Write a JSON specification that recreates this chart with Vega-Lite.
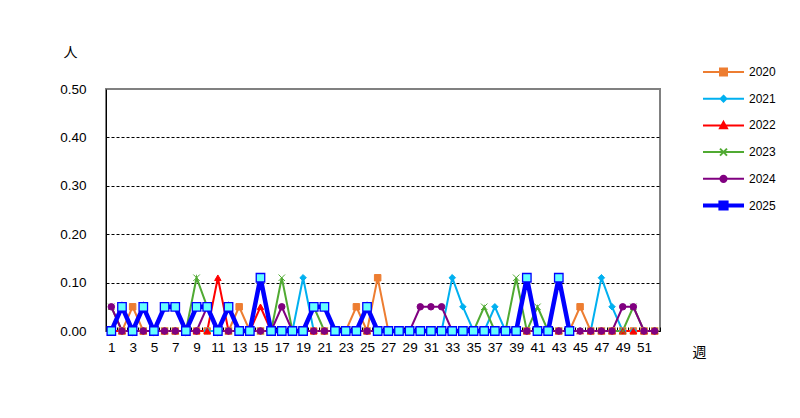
{
  "$schema": "https://vega.github.io/schema/vega-lite/v6.json",
  "width": 554,
  "height": 242,
  "autosize": {"type": "none"},
  "padding": {"left": 106, "top": 89, "right": 140, "bottom": 87},
  "background": "white",
  "config": {
    "view": {"stroke": "#808080", "strokeWidth": 2},
    "font": "Liberation Sans",
    "axis": {"labelFont": "Liberation Sans", "labelFontSize": 13.5, "labelColor": "black", "domainColor": "black", "domainWidth": 1}
  },
  "data": {"values": [
    {"y":"2020","w":1,"v":0},{"y":"2020","w":2,"v":0},{"y":"2020","w":3,"v":0.05},{"y":"2020","w":4,"v":0},{"y":"2020","w":5,"v":0},{"y":"2020","w":6,"v":0},{"y":"2020","w":7,"v":0},{"y":"2020","w":8,"v":0},{"y":"2020","w":9,"v":0},{"y":"2020","w":10,"v":0},{"y":"2020","w":11,"v":0},{"y":"2020","w":12,"v":0},{"y":"2020","w":13,"v":0.05},{"y":"2020","w":14,"v":0},{"y":"2020","w":15,"v":0},{"y":"2020","w":16,"v":0},{"y":"2020","w":17,"v":0},{"y":"2020","w":18,"v":0},{"y":"2020","w":19,"v":0},{"y":"2020","w":20,"v":0},{"y":"2020","w":21,"v":0},{"y":"2020","w":22,"v":0},{"y":"2020","w":23,"v":0},{"y":"2020","w":24,"v":0.05},{"y":"2020","w":25,"v":0},{"y":"2020","w":26,"v":0.11},{"y":"2020","w":27,"v":0},{"y":"2020","w":28,"v":0},{"y":"2020","w":29,"v":0},{"y":"2020","w":30,"v":0},{"y":"2020","w":31,"v":0},{"y":"2020","w":32,"v":0},{"y":"2020","w":33,"v":0},{"y":"2020","w":34,"v":0},{"y":"2020","w":35,"v":0},{"y":"2020","w":36,"v":0},{"y":"2020","w":37,"v":0},{"y":"2020","w":38,"v":0},{"y":"2020","w":39,"v":0},{"y":"2020","w":40,"v":0},{"y":"2020","w":41,"v":0},{"y":"2020","w":42,"v":0},{"y":"2020","w":43,"v":0},{"y":"2020","w":44,"v":0},{"y":"2020","w":45,"v":0.05},{"y":"2020","w":46,"v":0},{"y":"2020","w":47,"v":0},{"y":"2020","w":48,"v":0},{"y":"2020","w":49,"v":0},{"y":"2020","w":50,"v":0},{"y":"2020","w":51,"v":0},{"y":"2020","w":52,"v":0},
    {"y":"2021","w":1,"v":0},{"y":"2021","w":2,"v":0},{"y":"2021","w":3,"v":0},{"y":"2021","w":4,"v":0},{"y":"2021","w":5,"v":0},{"y":"2021","w":6,"v":0},{"y":"2021","w":7,"v":0},{"y":"2021","w":8,"v":0},{"y":"2021","w":9,"v":0},{"y":"2021","w":10,"v":0},{"y":"2021","w":11,"v":0},{"y":"2021","w":12,"v":0},{"y":"2021","w":13,"v":0},{"y":"2021","w":14,"v":0},{"y":"2021","w":15,"v":0},{"y":"2021","w":16,"v":0},{"y":"2021","w":17,"v":0},{"y":"2021","w":18,"v":0},{"y":"2021","w":19,"v":0.11},{"y":"2021","w":20,"v":0},{"y":"2021","w":21,"v":0},{"y":"2021","w":22,"v":0},{"y":"2021","w":23,"v":0},{"y":"2021","w":24,"v":0},{"y":"2021","w":25,"v":0},{"y":"2021","w":26,"v":0},{"y":"2021","w":27,"v":0},{"y":"2021","w":28,"v":0},{"y":"2021","w":29,"v":0},{"y":"2021","w":30,"v":0},{"y":"2021","w":31,"v":0},{"y":"2021","w":32,"v":0},{"y":"2021","w":33,"v":0.11},{"y":"2021","w":34,"v":0.05},{"y":"2021","w":35,"v":0},{"y":"2021","w":36,"v":0},{"y":"2021","w":37,"v":0.05},{"y":"2021","w":38,"v":0},{"y":"2021","w":39,"v":0},{"y":"2021","w":40,"v":0},{"y":"2021","w":41,"v":0},{"y":"2021","w":42,"v":0},{"y":"2021","w":43,"v":0},{"y":"2021","w":44,"v":0},{"y":"2021","w":45,"v":0},{"y":"2021","w":46,"v":0},{"y":"2021","w":47,"v":0.11},{"y":"2021","w":48,"v":0.05},{"y":"2021","w":49,"v":0},{"y":"2021","w":50,"v":0},{"y":"2021","w":51,"v":0},{"y":"2021","w":52,"v":0},
    {"y":"2022","w":1,"v":0},{"y":"2022","w":2,"v":0},{"y":"2022","w":3,"v":0},{"y":"2022","w":4,"v":0},{"y":"2022","w":5,"v":0},{"y":"2022","w":6,"v":0},{"y":"2022","w":7,"v":0},{"y":"2022","w":8,"v":0},{"y":"2022","w":9,"v":0},{"y":"2022","w":10,"v":0},{"y":"2022","w":11,"v":0.11},{"y":"2022","w":12,"v":0},{"y":"2022","w":13,"v":0},{"y":"2022","w":14,"v":0},{"y":"2022","w":15,"v":0.05},{"y":"2022","w":16,"v":0},{"y":"2022","w":17,"v":0},{"y":"2022","w":18,"v":0},{"y":"2022","w":19,"v":0},{"y":"2022","w":20,"v":0},{"y":"2022","w":21,"v":0},{"y":"2022","w":22,"v":0},{"y":"2022","w":23,"v":0},{"y":"2022","w":24,"v":0},{"y":"2022","w":25,"v":0},{"y":"2022","w":26,"v":0},{"y":"2022","w":27,"v":0},{"y":"2022","w":28,"v":0},{"y":"2022","w":29,"v":0},{"y":"2022","w":30,"v":0},{"y":"2022","w":31,"v":0},{"y":"2022","w":32,"v":0},{"y":"2022","w":33,"v":0},{"y":"2022","w":34,"v":0},{"y":"2022","w":35,"v":0},{"y":"2022","w":36,"v":0},{"y":"2022","w":37,"v":0},{"y":"2022","w":38,"v":0},{"y":"2022","w":39,"v":0},{"y":"2022","w":40,"v":0},{"y":"2022","w":41,"v":0},{"y":"2022","w":42,"v":0},{"y":"2022","w":43,"v":0},{"y":"2022","w":44,"v":0},{"y":"2022","w":45,"v":0},{"y":"2022","w":46,"v":0},{"y":"2022","w":47,"v":0},{"y":"2022","w":48,"v":0},{"y":"2022","w":49,"v":0},{"y":"2022","w":50,"v":0},{"y":"2022","w":51,"v":0},{"y":"2022","w":52,"v":0},
    {"y":"2023","w":1,"v":0.05},{"y":"2023","w":2,"v":0},{"y":"2023","w":3,"v":0},{"y":"2023","w":4,"v":0},{"y":"2023","w":5,"v":0},{"y":"2023","w":6,"v":0},{"y":"2023","w":7,"v":0},{"y":"2023","w":8,"v":0},{"y":"2023","w":9,"v":0.11},{"y":"2023","w":10,"v":0.05},{"y":"2023","w":11,"v":0},{"y":"2023","w":12,"v":0},{"y":"2023","w":13,"v":0},{"y":"2023","w":14,"v":0},{"y":"2023","w":15,"v":0},{"y":"2023","w":16,"v":0},{"y":"2023","w":17,"v":0.11},{"y":"2023","w":18,"v":0},{"y":"2023","w":19,"v":0},{"y":"2023","w":20,"v":0.05},{"y":"2023","w":21,"v":0},{"y":"2023","w":22,"v":0},{"y":"2023","w":23,"v":0},{"y":"2023","w":24,"v":0},{"y":"2023","w":25,"v":0},{"y":"2023","w":26,"v":0},{"y":"2023","w":27,"v":0},{"y":"2023","w":28,"v":0},{"y":"2023","w":29,"v":0},{"y":"2023","w":30,"v":0},{"y":"2023","w":31,"v":0},{"y":"2023","w":32,"v":0},{"y":"2023","w":33,"v":0},{"y":"2023","w":34,"v":0},{"y":"2023","w":35,"v":0},{"y":"2023","w":36,"v":0.05},{"y":"2023","w":37,"v":0},{"y":"2023","w":38,"v":0},{"y":"2023","w":39,"v":0.11},{"y":"2023","w":40,"v":0},{"y":"2023","w":41,"v":0.05},{"y":"2023","w":42,"v":0},{"y":"2023","w":43,"v":0},{"y":"2023","w":44,"v":0},{"y":"2023","w":45,"v":0},{"y":"2023","w":46,"v":0},{"y":"2023","w":47,"v":0},{"y":"2023","w":48,"v":0},{"y":"2023","w":49,"v":0},{"y":"2023","w":50,"v":0.05},{"y":"2023","w":51,"v":0},{"y":"2023","w":52,"v":0},
    {"y":"2024","w":1,"v":0.05},{"y":"2024","w":2,"v":0},{"y":"2024","w":3,"v":0},{"y":"2024","w":4,"v":0},{"y":"2024","w":5,"v":0},{"y":"2024","w":6,"v":0},{"y":"2024","w":7,"v":0},{"y":"2024","w":8,"v":0},{"y":"2024","w":9,"v":0},{"y":"2024","w":10,"v":0.05},{"y":"2024","w":11,"v":0},{"y":"2024","w":12,"v":0},{"y":"2024","w":13,"v":0},{"y":"2024","w":14,"v":0},{"y":"2024","w":15,"v":0},{"y":"2024","w":16,"v":0},{"y":"2024","w":17,"v":0.05},{"y":"2024","w":18,"v":0},{"y":"2024","w":19,"v":0},{"y":"2024","w":20,"v":0},{"y":"2024","w":21,"v":0},{"y":"2024","w":22,"v":0},{"y":"2024","w":23,"v":0},{"y":"2024","w":24,"v":0},{"y":"2024","w":25,"v":0},{"y":"2024","w":26,"v":0},{"y":"2024","w":27,"v":0},{"y":"2024","w":28,"v":0},{"y":"2024","w":29,"v":0},{"y":"2024","w":30,"v":0.05},{"y":"2024","w":31,"v":0.05},{"y":"2024","w":32,"v":0.05},{"y":"2024","w":33,"v":0},{"y":"2024","w":34,"v":0},{"y":"2024","w":35,"v":0},{"y":"2024","w":36,"v":0},{"y":"2024","w":37,"v":0},{"y":"2024","w":38,"v":0},{"y":"2024","w":39,"v":0},{"y":"2024","w":40,"v":0},{"y":"2024","w":41,"v":0},{"y":"2024","w":42,"v":0},{"y":"2024","w":43,"v":0},{"y":"2024","w":44,"v":0},{"y":"2024","w":45,"v":0},{"y":"2024","w":46,"v":0},{"y":"2024","w":47,"v":0},{"y":"2024","w":48,"v":0},{"y":"2024","w":49,"v":0.05},{"y":"2024","w":50,"v":0.05},{"y":"2024","w":51,"v":0},{"y":"2024","w":52,"v":0},
    {"y":"2025","w":1,"v":0},{"y":"2025","w":2,"v":0.05},{"y":"2025","w":3,"v":0},{"y":"2025","w":4,"v":0.05},{"y":"2025","w":5,"v":0},{"y":"2025","w":6,"v":0.05},{"y":"2025","w":7,"v":0.05},{"y":"2025","w":8,"v":0},{"y":"2025","w":9,"v":0.05},{"y":"2025","w":10,"v":0.05},{"y":"2025","w":11,"v":0},{"y":"2025","w":12,"v":0.05},{"y":"2025","w":13,"v":0},{"y":"2025","w":14,"v":0},{"y":"2025","w":15,"v":0.11},{"y":"2025","w":16,"v":0},{"y":"2025","w":17,"v":0},{"y":"2025","w":18,"v":0},{"y":"2025","w":19,"v":0},{"y":"2025","w":20,"v":0.05},{"y":"2025","w":21,"v":0.05},{"y":"2025","w":22,"v":0},{"y":"2025","w":23,"v":0},{"y":"2025","w":24,"v":0},{"y":"2025","w":25,"v":0.05},{"y":"2025","w":26,"v":0},{"y":"2025","w":27,"v":0},{"y":"2025","w":28,"v":0},{"y":"2025","w":29,"v":0},{"y":"2025","w":30,"v":0},{"y":"2025","w":31,"v":0},{"y":"2025","w":32,"v":0},{"y":"2025","w":33,"v":0},{"y":"2025","w":34,"v":0},{"y":"2025","w":35,"v":0},{"y":"2025","w":36,"v":0},{"y":"2025","w":37,"v":0},{"y":"2025","w":38,"v":0},{"y":"2025","w":39,"v":0},{"y":"2025","w":40,"v":0.11},{"y":"2025","w":41,"v":0},{"y":"2025","w":42,"v":0},{"y":"2025","w":43,"v":0.11},{"y":"2025","w":44,"v":0}
  ]},
  "encoding": {
    "x": {
      "field": "w", "type": "ordinal",
      "scale": {"type": "point", "padding": 0.5, "domain": [1,2,3,4,5,6,7,8,9,10,11,12,13,14,15,16,17,18,19,20,21,22,23,24,25,26,27,28,29,30,31,32,33,34,35,36,37,38,39,40,41,42,43,44,45,46,47,48,49,50,51,52]},
      "axis": {
        "title": "週", "titleFont": "Noto Sans CJK JP", "titleFontSize": 14, "titleFontWeight": "normal", "titleColor": "black",
        "titleAngle": 0, "titleX": 593, "titleY": 21, "titleAlign": "center", "titleBaseline": "middle",
        "labelExpr": "datum.value % 2 == 1 ? datum.label : ''", "labelAngle": 0, "labelBaseline": "top",
        "ticks": true, "tickSize": -4, "tickColor": "black", "tickWidth": 1, "tickOffset": 5.33, "labelOffset": -5.33,
        "labelPadding": 13, "grid": false, "domain": true
      }
    },
    "y": {
      "field": "v", "type": "quantitative",
      "scale": {"domain": [0, 0.5], "nice": false},
      "axis": {
        "title": "人", "titleFont": "Noto Sans CJK JP", "titleFontSize": 14, "titleFontWeight": "normal", "titleColor": "black",
        "titleAngle": 0, "titleX": -36, "titleY": -37, "titleAlign": "center", "titleBaseline": "middle",
        "values": [0, 0.1, 0.2, 0.3, 0.4, 0.5], "format": ".2f",
        "ticks": false, "tickSize": 0, "labelPadding": 20,
        "grid": true, "gridColor": "black", "gridDash": [3, 2], "gridWidth": 1,
        "gridOpacity": {"condition": {"test": "datum.value < 0.01 || datum.value > 0.49", "value": 0}, "value": 1},
        "domain": true
      }
    }
  },
  "layer": [
    {
      "transform": [{"filter": "datum.y != '2025'"}],
      "mark": {"type": "line", "strokeWidth": 2},
      "encoding": {
        "color": {
          "field": "y", "type": "nominal",
          "scale": {"domain": ["2020","2021","2022","2023","2024","2025"], "range": ["#ED7D31","#00B0F0","#FF0000","#50AA32","#800080","#0000FF"]},
          "legend": {
            "title": null, "orient": "none", "legendX": 596, "legendY": -24, "padding": 0,
            "symbolSize": 1681, "symbolStrokeWidth": 2, "clipHeight": 14, "rowPadding": 12.7, "labelOffset": 4,
            "labelFont": "Liberation Sans", "labelFontSize": 12, "labelColor": "black",
            "encode": {
              "symbols": {
                "update": {
                  "shape": {"signal": "datum.value == '2020' ? 'M-1,0H1M-0.17,-0.17H0.17V0.17H-0.17Z' : datum.value == '2021' ? 'M-1,0H1M0,-0.14L0.14,0L0,0.14L-0.14,0Z' : datum.value == '2022' ? 'M-1,0H1M0,-0.17L0.17,0.14L-0.17,0.14Z' : datum.value == '2023' ? 'M-1,0H1M-0.17,-0.17L0.17,0.17M-0.17,0.17L0.17,-0.17' : datum.value == '2024' ? 'M-1,0H1M0.15,0A0.15,0.15,0,1,1,-0.15,0A0.15,0.15,0,1,1,0.15,0Z' : 'M-1,-0.05H-0.22M-1,0H-0.22M-1,0.05H-0.22M0.22,-0.05H1M0.22,0H1M0.22,0.05H1M-0.2,-0.2H0.2V0.2H-0.2Z'"},
                  "size": {"value": 1681},
                  "fill": {"signal": "datum.value == '2020' ? '#ED7D31' : datum.value == '2021' ? '#00B0F0' : datum.value == '2022' ? '#FF0000' : datum.value == '2023' ? '#50AA32' : datum.value == '2024' ? '#800080' : '#66FFFF'"},
                  "stroke": {"signal": "datum.value == '2020' ? '#ED7D31' : datum.value == '2021' ? '#00B0F0' : datum.value == '2022' ? '#FF0000' : datum.value == '2023' ? '#50AA32' : datum.value == '2024' ? '#800080' : '#0000FF'"},
                  "strokeWidth": {"value": 2},
                  "opacity": {"value": 1},
                  "fillOpacity": {"value": 1},
                  "strokeOpacity": {"value": 1}
                }
              }
            }
          }
        }
      }
    },
    {
      "transform": [{"filter": "datum.y != '2025'"}],
      "mark": {"type": "point", "filled": true, "opacity": 1, "size": 42},
      "encoding": {
        "color": {"field": "y", "type": "nominal"},
        "stroke": {
          "field": "y", "type": "nominal",
          "scale": {"domain": ["2020","2021","2022","2023","2024"], "range": ["#ED7D31","#00B0F0","#FF0000","#50AA32","#800080"]},
          "legend": null
        },
        "shape": {
          "field": "y", "type": "nominal",
          "scale": {"domain": ["2020","2021","2022","2023","2024"], "range": ["square","diamond","triangle-up","M-1,-1L1,1M-1,1L1,-1","circle"]},
          "legend": null
        },
        "strokeWidth": {
          "field": "y", "type": "nominal",
          "scale": {"domain": ["2020","2021","2022","2023","2024"], "range": [1, 1, 1, 2.5, 1]},
          "legend": null
        }
      }
    },
    {
      "transform": [{"filter": "datum.y == '2025'"}],
      "mark": {"type": "line", "strokeWidth": 4.5},
      "encoding": {"color": {"field": "y", "type": "nominal"}}
    },
    {
      "transform": [{"filter": "datum.y == '2025'"}],
      "mark": {"type": "point", "shape": "square", "filled": true, "fill": "#66FFFF", "stroke": "#0000FF", "strokeWidth": 1.3, "size": 72, "opacity": 1}
    }
  ]
}
